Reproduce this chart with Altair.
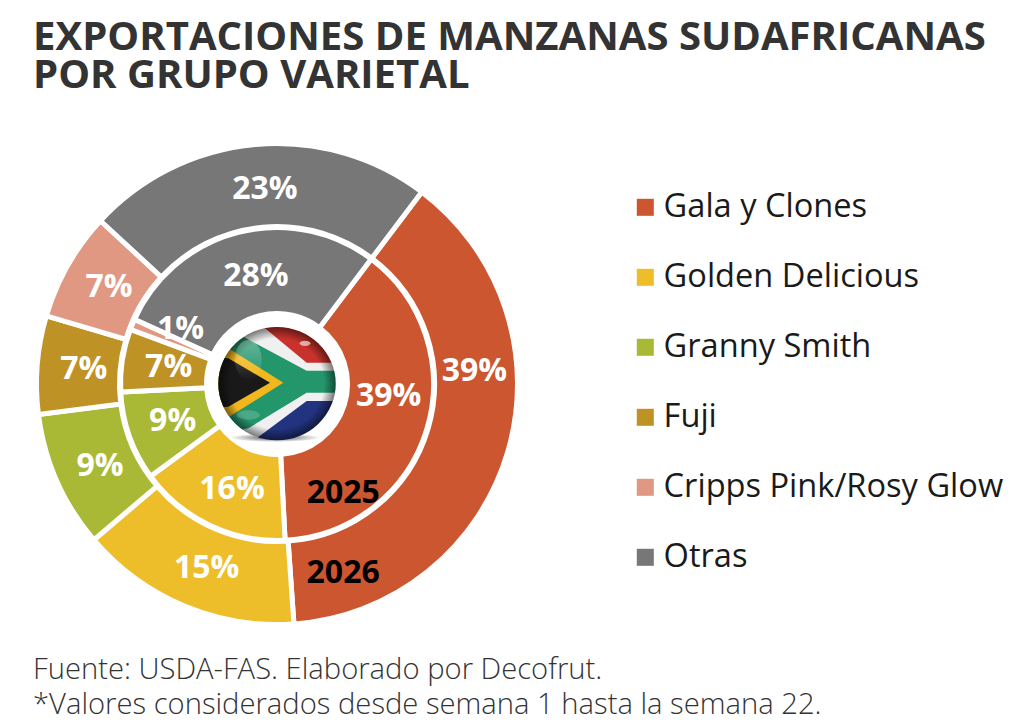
import base64
import math
import altair as alt
import pandas as pd

categories = ["Gala y Clones", "Golden Delicious", "Granny Smith", "Fuji", "Cripps Pink/Rosy Glow", "Otras"]
colors = ["#CC5630", "#EEBE2A", "#A9B936", "#BF9225", "#E09882", "#777777"]
values_2026 = [38.6, 14.9, 9.2, 6.6, 7.3, 23.4]
values_2025 = [38.9, 15.8, 9.2, 6.5, 1.1, 28.5]

labels = ["39%", "15%", "9%", "7%", "7%", "23%", "2026",
          "39%", "16%", "9%", "7%", "1%", "28%", "2025"]
label_pos = [13.5, 45.6, 58.0, 66.1, 73.2, 88.75, 34.3,
             16.1, 46.3, 59.6, 67.5, 73.2, 86.7, 30.9]
label_r = [198, 195, 194, 194, 195, 197, 198,
           112, 112, 110, 110, 112, 112, 126]
label_col = ["#ffffff"] * 6 + ["#000000"] + ["#ffffff"] * 6 + ["#000000"]

title_lines = ["EXPORTACIONES DE MANZANAS SUDAFRICANAS", "POR GRUPO VARIETAL"]
foot_lines = ["Fuente: USDA-FAS. Elaborado por Decofrut.",
              "*Valores considerados desde semana 1 hasta la semana 22."]

CX, CY = 269, 376
start = math.radians(37)
theta_scale = alt.Scale(domain=[0, 100], range=[start, start + 2 * math.pi])
color_scale = alt.Scale(domain=categories, range=colors)

def ring(values, outer, inner, legend):
    df = pd.DataFrame({"cat": categories, "value": values, "ord": range(len(values))})
    return alt.Chart(df).mark_arc(radius=outer, radius2=inner, stroke="white", strokeWidth=5).encode(
        x=alt.value(CX), y=alt.value(CY),
        theta=alt.Theta("value:Q", stack=True, scale=theta_scale),
        color=alt.Color("cat:N", scale=color_scale, sort=categories, legend=legend),
        order=alt.Order("ord:Q"),
    )

legend = alt.Legend(
    title=None, orient="none", legendX=621, legendY=183, symbolType="square", symbolSize=290,
    symbolStrokeWidth=0, labelFont="Open Sans", labelFontSize=32.6, labelColor="#1a1a1a",
    rowPadding=37, labelOffset=2, labelLimit=400, values=categories,
)
outer = ring(values_2026, 240.5, 157.5, legend)
inner = ring(values_2025, 156.5, 70.5, None)

ldf = pd.DataFrame({"t": labels, "pos": label_pos, "r": label_r, "c": label_col})
text = alt.Chart(ldf).mark_text(font="Open Sans", fontWeight="bold", fontSize=32, align="center", baseline="middle", dy=2).encode(
    x=alt.value(CX), y=alt.value(CY),
    theta=alt.Theta("pos:Q", stack=False, scale=theta_scale),
    radius=alt.Radius("r:Q", scale=None),
    text="t:N",
    color=alt.Color("c:N", scale=None),
)

flag_svg = """<svg xmlns="http://www.w3.org/2000/svg" width="540" height="480" viewBox="0 0 540 480">
<defs>
<clipPath id="c"><ellipse cx="261" cy="251" rx="176" ry="170"/></clipPath>
<radialGradient id="rim" cx="50%" cy="50%" r="50%"><stop offset="80%" stop-color="#000" stop-opacity="0"/><stop offset="100%" stop-color="#000" stop-opacity="0.5"/></radialGradient>
<linearGradient id="gl" x1="0" y1="0" x2="0" y2="1"><stop offset="0%" stop-color="#fff" stop-opacity="0.3"/><stop offset="100%" stop-color="#fff" stop-opacity="0"/></linearGradient>
<radialGradient id="sh"><stop offset="0%" stop-color="#000" stop-opacity="0.7"/><stop offset="100%" stop-color="#000" stop-opacity="0"/></radialGradient>
</defs>
<ellipse cx="255" cy="413" rx="135" ry="13" fill="url(#sh)"/>
<g clip-path="url(#c)">
<rect x="60" y="60" width="420" height="192" fill="#c9322c"/>
<rect x="60" y="250" width="420" height="190" fill="#22337f"/>
<polygon fill="#f0f0f0" points="60,40 225,85 350,188 450,188 450,303 350,303 200,415 60,440"/>
<polygon fill="#24966c" points="60,80 150,105 350,212 450,212 450,278 350,278 175,385 60,410"/>
<polygon fill="#f2b71d" points="60,130 115,145 280,248 115,352 60,370"/>
<polygon fill="#191919" points="60,170 115,175 240,248 115,320 60,325"/>
<ellipse cx="261" cy="251" rx="176" ry="170" fill="url(#rim)"/>
<ellipse cx="175" cy="180" rx="40" ry="60" fill="url(#gl)"/>
<ellipse cx="345" cy="130" rx="16" ry="8" fill="#fff" fill-opacity="0.6"/>
<ellipse cx="175" cy="345" rx="35" ry="14" fill="#fff" fill-opacity="0.18"/>
</g>
</svg>"""
flag_url = "data:image/svg+xml;base64," + base64.b64encode(flag_svg.encode()).decode()
flag = alt.Chart(pd.DataFrame({"u": [flag_url]})).mark_image(
    width=180, height=160, align="left", baseline="top"
).encode(x=alt.value(182), y=alt.value(292), url="u:N")

def text_line(s, x, y, size, weight, color):
    return alt.Chart(pd.DataFrame({"t": [s]})).mark_text(
        font="Open Sans", fontSize=size, fontWeight=weight, color=color, align="left", baseline="alphabetic"
    ).encode(x=alt.value(x), y=alt.value(y), text="t:N")

titles = [text_line(s, 25, y, 40.1, "bold", "#333333") for s, y in zip(title_lines, [42, 80])]
foots = [text_line(s, 25, y, 29.2, 300, "#333333") for s, y in zip(foot_lines, [671, 706])]

chart = alt.layer(outer, inner, flag, text, *titles, *foots).properties(
    width=1000, height=716, padding=0, autosize=alt.AutoSizeParams(type="none")
).configure_view(stroke=None)

chart.save("out.html", embed_options={"renderer": "svg", "actions": False})
